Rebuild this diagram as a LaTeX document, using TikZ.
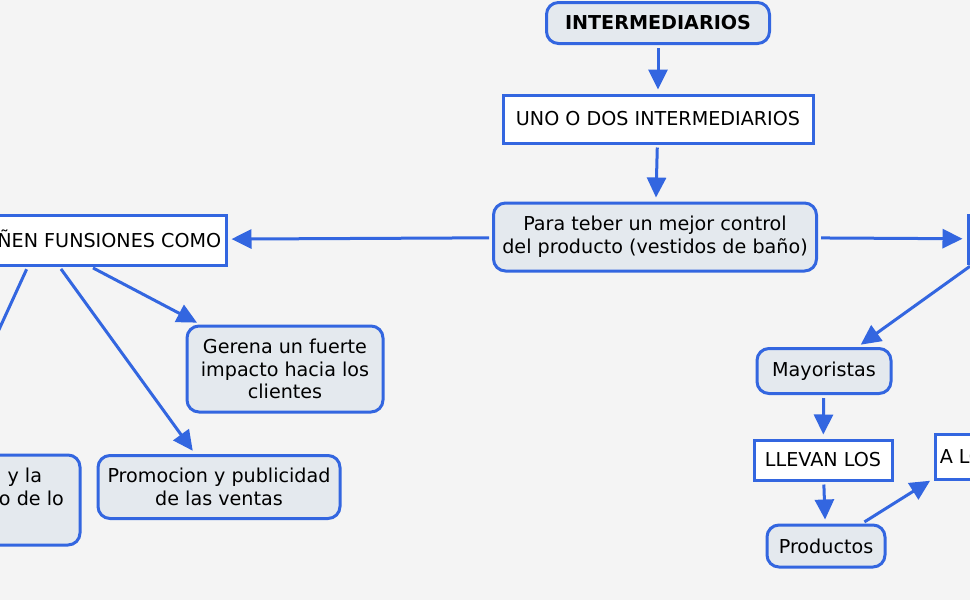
\documentclass[tikz,border=0pt]{standalone}
\usepackage{fontspec}
\setmainfont{DejaVu Sans}
\usetikzlibrary{arrows.meta,positioning}
\definecolor{azul}{HTML}{3366E0}
\definecolor{relleno}{HTML}{E4E9EE}
\definecolor{fondo}{HTML}{F4F4F4}
\def\px{0.02cm}

\begin{document}
\begin{tikzpicture}[x=0.02cm,y=-0.02cm]

\tikzset{
	concepto/.style={
		rounded corners=12*\px,
		rectangle,
		draw=azul,
		line width=3*\px,
		fill=relleno,
		align=center,
		font=\fontsize{10.9}{13}\selectfont,
		inner sep=0pt
	}
}

\tikzset{
	enlace/.style={
		rectangle,
		draw=azul,
		line width=3*\px,
		fill=white,
		align=center,
		font=\fontsize{10.9}{13}\selectfont,
		inner sep=0pt
	}
}

\tikzset{
	flecha/.style={
		draw=azul,
		line width=3*\px,
		-{Triangle[length=20*\px,width=19*\px]},
		shorten <=3*\px,
		shorten >=4*\px
	}
}

\fill[fondo] (0,0) rectangle (970,600);
\useasboundingbox (0,0) rectangle (970,600);
\clip (0,0) rectangle (970,600);

% centro
\node[concepto, minimum width=223*\px, minimum height=41*\px, font=\fontsize{10.9}{13}\selectfont\bfseries] (inter) at (658,23) {INTERMEDIARIOS};
\node[enlace, minimum width=310*\px, minimum height=48*\px] (uno) at (658,119) {UNO O DOS INTERMEDIARIOS};
\node[concepto, minimum width=323*\px, minimum height=68*\px] (control) at (655,237) {Para teber un mejor control\\del producto (vestidos de baño)};

% izquierda
\node[enlace, minimum width=372*\px, minimum height=50*\px] (funsiones) at (40,240) {QUE DESEMPEÑEN FUNSIONES COMO};
\node[concepto, minimum width=196*\px, minimum height=86*\px] (impacto) at (285,369) {Gerena un fuerte\\impacto hacia los\\clientes};
\node[concepto, minimum width=242*\px, minimum height=63*\px] (promocion) at (219,487) {Promocion y publicidad\\de las ventas};
\node[concepto, minimum width=318*\px, minimum height=90*\px] (transporte) at (-79,500) {Transportes de carga y la\\y buen almacenamiento de lo\\s productos};

% derecha
\node[enlace, minimum width=80*\px, minimum height=48*\px] (como) at (1008,239) {COMO};
\node[concepto, minimum width=134*\px, minimum height=45*\px] (mayoristas) at (824,371) {Mayoristas};
\node[enlace, minimum width=138*\px, minimum height=40*\px] (llevan) at (823,460) {LLEVAN LOS};
\node[concepto, minimum width=118*\px, minimum height=42*\px] (productos) at (826,546) {Productos};
\node[enlace, minimum width=66*\px, minimum height=45*\px] (alos) at (968,457) {A LOS};

\draw[flecha] (inter) -- (uno);
\draw[flecha] (uno) -- (control);
\draw[flecha] (control) -- (funsiones);
\draw[flecha] (control) -- (como);
\draw[flecha] (funsiones) -- (impacto);
\draw[flecha] (funsiones) -- (promocion);
\draw[flecha] (funsiones) -- (transporte);
\draw[flecha] (como) -- (mayoristas);
\draw[flecha] (mayoristas) -- (llevan);
\draw[flecha] (llevan) -- (productos);
\draw[flecha] (productos) -- (alos);

\end{tikzpicture}
\end{document}
